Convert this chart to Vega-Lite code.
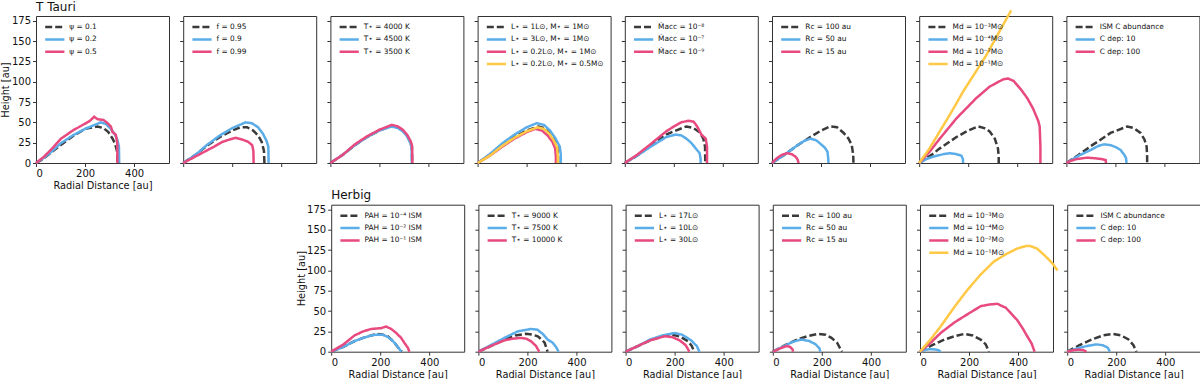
{
"$schema":"https://vega.github.io/schema/vega-lite/v6.json",
"padding":{"left":0,"top":0,"right":0,"bottom":0},
"spacing":-2.3,
"config":{
 "font":"DejaVu Sans",
 "view":{"stroke":"#333","strokeWidth":1},
 "axis":{"domain":false,"grid":false,"tickSize":3.5,"tickColor":"#333","labelFontSize":10,"labelColor":"#111","titleFontSize":9.8,"titleFontWeight":"normal","titleColor":"#111","labelPadding":2,"titlePadding":2},
 "axisY":{"titlePadding":0.5},
 "legend":{"padding":0,"labelFontSize":7.4,"symbolType":"M-2.4,0H2.4","symbolSize":64,"symbolStrokeWidth":2.5,"rowPadding":1.3,"labelOffset":9,"labelColor":"#111"},
 "line":{"strokeWidth":2.5,"clip":true},
 "title":{"anchor":"start","fontSize":12,"fontWeight":"normal","offset":2.2,"baseline":"alphabetic","frame":"group","color":"#111"}
},
"resolve":{"scale":{"color":"independent","strokeDash":"independent"},"legend":{"color":"independent","strokeDash":"independent"}},
"vconcat":[
{"hconcat":[
 {"title":"T Tauri","width":133,"height":147,"data":{"values":[
  {"s":"ψ = 0.1","x":0,"y":0},{"s":"ψ = 0.1","x":25,"y":4},{"s":"ψ = 0.1","x":50,"y":10},{"s":"ψ = 0.1","x":100,"y":22},{"s":"ψ = 0.1","x":150,"y":33},{"s":"ψ = 0.1","x":200,"y":42},{"s":"ψ = 0.1","x":250,"y":45},{"s":"ψ = 0.1","x":275,"y":43},{"s":"ψ = 0.1","x":295,"y":38},{"s":"ψ = 0.1","x":312,"y":30},{"s":"ψ = 0.1","x":322,"y":24},{"s":"ψ = 0.1","x":330,"y":15},{"s":"ψ = 0.1","x":332,"y":5},{"s":"ψ = 0.1","x":332,"y":0},
  {"s":"ψ = 0.2","x":0,"y":0},{"s":"ψ = 0.2","x":30,"y":6},{"s":"ψ = 0.2","x":60,"y":13},{"s":"ψ = 0.2","x":100,"y":24},{"s":"ψ = 0.2","x":150,"y":34},{"s":"ψ = 0.2","x":200,"y":42},{"s":"ψ = 0.2","x":240,"y":47},{"s":"ψ = 0.2","x":264,"y":50},{"s":"ψ = 0.2","x":285,"y":48},{"s":"ψ = 0.2","x":305,"y":42},{"s":"ψ = 0.2","x":322,"y":35},{"s":"ψ = 0.2","x":332,"y":28},{"s":"ψ = 0.2","x":338,"y":20},{"s":"ψ = 0.2","x":339,"y":0},
  {"s":"ψ = 0.5","x":0,"y":0},{"s":"ψ = 0.5","x":30,"y":7},{"s":"ψ = 0.5","x":60,"y":16},{"s":"ψ = 0.5","x":102,"y":30},{"s":"ψ = 0.5","x":150,"y":40},{"s":"ψ = 0.5","x":197,"y":48},{"s":"ψ = 0.5","x":220,"y":52},{"s":"ψ = 0.5","x":237,"y":57},{"s":"ψ = 0.5","x":250,"y":54},{"s":"ψ = 0.5","x":275,"y":53},{"s":"ψ = 0.5","x":292,"y":49},{"s":"ψ = 0.5","x":305,"y":45},{"s":"ψ = 0.5","x":312,"y":38},{"s":"ψ = 0.5","x":325,"y":35},{"s":"ψ = 0.5","x":331,"y":25},{"s":"ψ = 0.5","x":332,"y":0}
 ]},
 "mark":"line",
 "encoding":{
  "x":{"field":"x","type":"quantitative","scale":{"domain":[0,542],"nice":false},"axis":{"values":[0,200,400],"title":"Radial Distance [au]"}},
  "y":{"field":"y","type":"quantitative","scale":{"domain":[0,181],"nice":false},"axis":{"values":[0,25,50,75,100,125,150,175],"title":"Height [au]"}},
  "color":{"field":"s","type":"nominal","scale":{"domain":["ψ = 0.1","ψ = 0.2","ψ = 0.5"],"range":["#3a3a3a","#5aade8","#e8497e"]},"legend":{"title":null,"orient":"none","legendX":13.3,"legendY":5.6}},
  "strokeDash":{"field":"s","type":"nominal","scale":{"domain":["ψ = 0.1","ψ = 0.2","ψ = 0.5"],"range":[[7,3],[1,0],[1,0]]},"legend":{"title":null,"orient":"none","legendX":13.3,"legendY":5.6}},
  "order":{"value":null}
 }},
 {"width":133,"height":147,"data":{"values":[
  {"s":"f = 0.95","x":0,"y":0},{"s":"f = 0.95","x":50,"y":10},{"s":"f = 0.95","x":100,"y":22},{"s":"f = 0.95","x":150,"y":32},{"s":"f = 0.95","x":200,"y":40},{"s":"f = 0.95","x":233,"y":44},{"s":"f = 0.95","x":260,"y":44},{"s":"f = 0.95","x":285,"y":40},{"s":"f = 0.95","x":305,"y":34},{"s":"f = 0.95","x":320,"y":26},{"s":"f = 0.95","x":329,"y":15},{"s":"f = 0.95","x":331,"y":0},
  {"s":"f = 0.9","x":0,"y":0},{"s":"f = 0.9","x":50,"y":10},{"s":"f = 0.9","x":100,"y":23},{"s":"f = 0.9","x":150,"y":34},{"s":"f = 0.9","x":200,"y":43},{"s":"f = 0.9","x":254,"y":50},{"s":"f = 0.9","x":280,"y":49},{"s":"f = 0.9","x":305,"y":44},{"s":"f = 0.9","x":325,"y":36},{"s":"f = 0.9","x":340,"y":27},{"s":"f = 0.9","x":347,"y":20},{"s":"f = 0.9","x":348,"y":0},
  {"s":"f = 0.99","x":0,"y":0},{"s":"f = 0.99","x":50,"y":8},{"s":"f = 0.99","x":100,"y":16},{"s":"f = 0.99","x":125,"y":20},{"s":"f = 0.99","x":160,"y":26},{"s":"f = 0.99","x":190,"y":29},{"s":"f = 0.99","x":213,"y":31},{"s":"f = 0.99","x":240,"y":29},{"s":"f = 0.99","x":265,"y":26},{"s":"f = 0.99","x":281,"y":22},{"s":"f = 0.99","x":286,"y":15},{"s":"f = 0.99","x":287,"y":0}
 ]},
 "mark":"line",
 "encoding":{
  "x":{"field":"x","type":"quantitative","scale":{"domain":[0,542],"nice":false},"axis":{"values":[0,200,400],"labels":false,"title":null}},
  "y":{"field":"y","type":"quantitative","scale":{"domain":[0,181],"nice":false},"axis":{"values":[0,25,50,75,100,125,150,175],"labels":false,"title":null}},
  "color":{"field":"s","type":"nominal","scale":{"domain":["f = 0.95","f = 0.9","f = 0.99"],"range":["#3a3a3a","#5aade8","#e8497e"]},"legend":{"title":null,"orient":"none","legendX":13.3,"legendY":5.6}},
  "strokeDash":{"field":"s","type":"nominal","scale":{"domain":["f = 0.95","f = 0.9","f = 0.99"],"range":[[7,3],[1,0],[1,0]]},"legend":{"title":null,"orient":"none","legendX":13.3,"legendY":5.6}},
  "order":{"value":null}
 }},
 {"width":133,"height":147,"data":{"values":[
  {"s":"T⋆ = 4000 K","x":0,"y":0},{"s":"T⋆ = 4000 K","x":50,"y":10},{"s":"T⋆ = 4000 K","x":100,"y":22},{"s":"T⋆ = 4000 K","x":150,"y":32},{"s":"T⋆ = 4000 K","x":200,"y":40},{"s":"T⋆ = 4000 K","x":251,"y":46},{"s":"T⋆ = 4000 K","x":275,"y":44},{"s":"T⋆ = 4000 K","x":295,"y":40},{"s":"T⋆ = 4000 K","x":312,"y":34},{"s":"T⋆ = 4000 K","x":326,"y":26},{"s":"T⋆ = 4000 K","x":332,"y":20},{"s":"T⋆ = 4000 K","x":333,"y":0},
  {"s":"T⋆ = 4500 K","x":0,"y":0},{"s":"T⋆ = 4500 K","x":50,"y":10},{"s":"T⋆ = 4500 K","x":100,"y":22},{"s":"T⋆ = 4500 K","x":150,"y":32},{"s":"T⋆ = 4500 K","x":200,"y":40},{"s":"T⋆ = 4500 K","x":250,"y":45},{"s":"T⋆ = 4500 K","x":275,"y":43},{"s":"T⋆ = 4500 K","x":295,"y":39},{"s":"T⋆ = 4500 K","x":312,"y":33},{"s":"T⋆ = 4500 K","x":325,"y":25},{"s":"T⋆ = 4500 K","x":331,"y":19},{"s":"T⋆ = 4500 K","x":332,"y":0},
  {"s":"T⋆ = 3500 K","x":0,"y":0},{"s":"T⋆ = 3500 K","x":50,"y":10},{"s":"T⋆ = 3500 K","x":100,"y":23},{"s":"T⋆ = 3500 K","x":150,"y":33},{"s":"T⋆ = 3500 K","x":200,"y":41},{"s":"T⋆ = 3500 K","x":251,"y":47},{"s":"T⋆ = 3500 K","x":275,"y":45},{"s":"T⋆ = 3500 K","x":295,"y":41},{"s":"T⋆ = 3500 K","x":312,"y":35},{"s":"T⋆ = 3500 K","x":327,"y":27},{"s":"T⋆ = 3500 K","x":333,"y":21},{"s":"T⋆ = 3500 K","x":334,"y":0}
 ]},
 "mark":"line",
 "encoding":{
  "x":{"field":"x","type":"quantitative","scale":{"domain":[0,542],"nice":false},"axis":{"values":[0,200,400],"labels":false,"title":null}},
  "y":{"field":"y","type":"quantitative","scale":{"domain":[0,181],"nice":false},"axis":{"values":[0,25,50,75,100,125,150,175],"labels":false,"title":null}},
  "color":{"field":"s","type":"nominal","scale":{"domain":["T⋆ = 4000 K","T⋆ = 4500 K","T⋆ = 3500 K"],"range":["#3a3a3a","#5aade8","#e8497e"]},"legend":{"title":null,"orient":"none","legendX":13.3,"legendY":5.6}},
  "strokeDash":{"field":"s","type":"nominal","scale":{"domain":["T⋆ = 4000 K","T⋆ = 4500 K","T⋆ = 3500 K"],"range":[[7,3],[1,0],[1,0]]},"legend":{"title":null,"orient":"none","legendX":13.3,"legendY":5.6}},
  "order":{"value":null}
 }},
 {"width":133,"height":147,"data":{"values":[
  {"s":"L⋆ = 1L⊙, M⋆ = 1M⊙","x":0,"y":0},{"s":"L⋆ = 1L⊙, M⋆ = 1M⊙","x":50,"y":10},{"s":"L⋆ = 1L⊙, M⋆ = 1M⊙","x":100,"y":22},{"s":"L⋆ = 1L⊙, M⋆ = 1M⊙","x":150,"y":32},{"s":"L⋆ = 1L⊙, M⋆ = 1M⊙","x":200,"y":40},{"s":"L⋆ = 1L⊙, M⋆ = 1M⊙","x":248,"y":45},{"s":"L⋆ = 1L⊙, M⋆ = 1M⊙","x":272,"y":43},{"s":"L⋆ = 1L⊙, M⋆ = 1M⊙","x":293,"y":37},{"s":"L⋆ = 1L⊙, M⋆ = 1M⊙","x":312,"y":29},{"s":"L⋆ = 1L⊙, M⋆ = 1M⊙","x":325,"y":20},{"s":"L⋆ = 1L⊙, M⋆ = 1M⊙","x":328,"y":8},{"s":"L⋆ = 1L⊙, M⋆ = 1M⊙","x":328,"y":0},
  {"s":"L⋆ = 3L⊙, M⋆ = 1M⊙","x":0,"y":0},{"s":"L⋆ = 3L⊙, M⋆ = 1M⊙","x":50,"y":11},{"s":"L⋆ = 3L⊙, M⋆ = 1M⊙","x":100,"y":24},{"s":"L⋆ = 3L⊙, M⋆ = 1M⊙","x":150,"y":35},{"s":"L⋆ = 3L⊙, M⋆ = 1M⊙","x":200,"y":44},{"s":"L⋆ = 3L⊙, M⋆ = 1M⊙","x":241,"y":49},{"s":"L⋆ = 3L⊙, M⋆ = 1M⊙","x":270,"y":47},{"s":"L⋆ = 3L⊙, M⋆ = 1M⊙","x":295,"y":40},{"s":"L⋆ = 3L⊙, M⋆ = 1M⊙","x":318,"y":30},{"s":"L⋆ = 3L⊙, M⋆ = 1M⊙","x":335,"y":20},{"s":"L⋆ = 3L⊙, M⋆ = 1M⊙","x":339,"y":10},{"s":"L⋆ = 3L⊙, M⋆ = 1M⊙","x":339,"y":0},
  {"s":"L⋆ = 0.2L⊙, M⋆ = 1M⊙","x":0,"y":0},{"s":"L⋆ = 0.2L⊙, M⋆ = 1M⊙","x":50,"y":9},{"s":"L⋆ = 0.2L⊙, M⋆ = 1M⊙","x":100,"y":20},{"s":"L⋆ = 0.2L⊙, M⋆ = 1M⊙","x":150,"y":30},{"s":"L⋆ = 0.2L⊙, M⋆ = 1M⊙","x":200,"y":38},{"s":"L⋆ = 0.2L⊙, M⋆ = 1M⊙","x":235,"y":42},{"s":"L⋆ = 0.2L⊙, M⋆ = 1M⊙","x":262,"y":40},{"s":"L⋆ = 0.2L⊙, M⋆ = 1M⊙","x":285,"y":34},{"s":"L⋆ = 0.2L⊙, M⋆ = 1M⊙","x":305,"y":26},{"s":"L⋆ = 0.2L⊙, M⋆ = 1M⊙","x":316,"y":18},{"s":"L⋆ = 0.2L⊙, M⋆ = 1M⊙","x":319,"y":8},{"s":"L⋆ = 0.2L⊙, M⋆ = 1M⊙","x":319,"y":0},
  {"s":"L⋆ = 0.2L⊙, M⋆ = 0.5M⊙","x":0,"y":0},{"s":"L⋆ = 0.2L⊙, M⋆ = 0.5M⊙","x":50,"y":9},{"s":"L⋆ = 0.2L⊙, M⋆ = 0.5M⊙","x":100,"y":21},{"s":"L⋆ = 0.2L⊙, M⋆ = 0.5M⊙","x":150,"y":31},{"s":"L⋆ = 0.2L⊙, M⋆ = 0.5M⊙","x":200,"y":39},{"s":"L⋆ = 0.2L⊙, M⋆ = 0.5M⊙","x":245,"y":44},{"s":"L⋆ = 0.2L⊙, M⋆ = 0.5M⊙","x":270,"y":42},{"s":"L⋆ = 0.2L⊙, M⋆ = 0.5M⊙","x":292,"y":36},{"s":"L⋆ = 0.2L⊙, M⋆ = 0.5M⊙","x":310,"y":28},{"s":"L⋆ = 0.2L⊙, M⋆ = 0.5M⊙","x":324,"y":19},{"s":"L⋆ = 0.2L⊙, M⋆ = 0.5M⊙","x":327,"y":8},{"s":"L⋆ = 0.2L⊙, M⋆ = 0.5M⊙","x":327,"y":0}
 ]},
 "mark":"line",
 "encoding":{
  "x":{"field":"x","type":"quantitative","scale":{"domain":[0,542],"nice":false},"axis":{"values":[0,200,400],"labels":false,"title":null}},
  "y":{"field":"y","type":"quantitative","scale":{"domain":[0,181],"nice":false},"axis":{"values":[0,25,50,75,100,125,150,175],"labels":false,"title":null}},
  "color":{"field":"s","type":"nominal","scale":{"domain":["L⋆ = 1L⊙, M⋆ = 1M⊙","L⋆ = 3L⊙, M⋆ = 1M⊙","L⋆ = 0.2L⊙, M⋆ = 1M⊙","L⋆ = 0.2L⊙, M⋆ = 0.5M⊙"],"range":["#3a3a3a","#5aade8","#e8497e","#ffc845"]},"legend":{"title":null,"orient":"none","legendX":13.3,"legendY":5.6}},
  "strokeDash":{"field":"s","type":"nominal","scale":{"domain":["L⋆ = 1L⊙, M⋆ = 1M⊙","L⋆ = 3L⊙, M⋆ = 1M⊙","L⋆ = 0.2L⊙, M⋆ = 1M⊙","L⋆ = 0.2L⊙, M⋆ = 0.5M⊙"],"range":[[7,3],[1,0],[1,0],[1,0]]},"legend":{"title":null,"orient":"none","legendX":13.3,"legendY":5.6}},
  "order":{"value":null}
 }},
 {"width":133,"height":147,"data":{"values":[
  {"s":"Ṁacc = 10⁻⁸","x":0,"y":0},{"s":"Ṁacc = 10⁻⁸","x":50,"y":9},{"s":"Ṁacc = 10⁻⁸","x":100,"y":20},{"s":"Ṁacc = 10⁻⁸","x":169,"y":35},{"s":"Ṁacc = 10⁻⁸","x":200,"y":39},{"s":"Ṁacc = 10⁻⁸","x":251,"y":45},{"s":"Ṁacc = 10⁻⁸","x":280,"y":43},{"s":"Ṁacc = 10⁻⁸","x":305,"y":38},{"s":"Ṁacc = 10⁻⁸","x":320,"y":30},{"s":"Ṁacc = 10⁻⁸","x":327,"y":20},{"s":"Ṁacc = 10⁻⁸","x":328,"y":0},
  {"s":"Ṁacc = 10⁻⁷","x":0,"y":0},{"s":"Ṁacc = 10⁻⁷","x":50,"y":9},{"s":"Ṁacc = 10⁻⁷","x":100,"y":19},{"s":"Ṁacc = 10⁻⁷","x":169,"y":32},{"s":"Ṁacc = 10⁻⁷","x":207,"y":35},{"s":"Ṁacc = 10⁻⁷","x":230,"y":34},{"s":"Ṁacc = 10⁻⁷","x":251,"y":30},{"s":"Ṁacc = 10⁻⁷","x":270,"y":25},{"s":"Ṁacc = 10⁻⁷","x":289,"y":18},{"s":"Ṁacc = 10⁻⁷","x":305,"y":12},{"s":"Ṁacc = 10⁻⁷","x":309,"y":5},{"s":"Ṁacc = 10⁻⁷","x":309,"y":0},
  {"s":"Ṁacc = 10⁻⁹","x":0,"y":0},{"s":"Ṁacc = 10⁻⁹","x":50,"y":10},{"s":"Ṁacc = 10⁻⁹","x":100,"y":22},{"s":"Ṁacc = 10⁻⁹","x":169,"y":39},{"s":"Ṁacc = 10⁻⁹","x":200,"y":45},{"s":"Ṁacc = 10⁻⁹","x":230,"y":50},{"s":"Ṁacc = 10⁻⁹","x":258,"y":52},{"s":"Ṁacc = 10⁻⁹","x":280,"y":51},{"s":"Ṁacc = 10⁻⁹","x":295,"y":45},{"s":"Ṁacc = 10⁻⁹","x":312,"y":35},{"s":"Ṁacc = 10⁻⁹","x":330,"y":30},{"s":"Ṁacc = 10⁻⁹","x":335,"y":20},{"s":"Ṁacc = 10⁻⁹","x":335,"y":0}
 ]},
 "mark":"line",
 "encoding":{
  "x":{"field":"x","type":"quantitative","scale":{"domain":[0,542],"nice":false},"axis":{"values":[0,200,400],"labels":false,"title":null}},
  "y":{"field":"y","type":"quantitative","scale":{"domain":[0,181],"nice":false},"axis":{"values":[0,25,50,75,100,125,150,175],"labels":false,"title":null}},
  "color":{"field":"s","type":"nominal","scale":{"domain":["Ṁacc = 10⁻⁸","Ṁacc = 10⁻⁷","Ṁacc = 10⁻⁹"],"range":["#3a3a3a","#5aade8","#e8497e"]},"legend":{"title":null,"orient":"none","legendX":13.3,"legendY":5.6}},
  "strokeDash":{"field":"s","type":"nominal","scale":{"domain":["Ṁacc = 10⁻⁸","Ṁacc = 10⁻⁷","Ṁacc = 10⁻⁹"],"range":[[7,3],[1,0],[1,0]]},"legend":{"title":null,"orient":"none","legendX":13.3,"legendY":5.6}},
  "order":{"value":null}
 }},
 {"width":133,"height":147,"data":{"values":[
  {"s":"Rᴄ = 100 au","x":0,"y":0},{"s":"Rᴄ = 100 au","x":50,"y":10},{"s":"Rᴄ = 100 au","x":100,"y":21},{"s":"Rᴄ = 100 au","x":156,"y":32},{"s":"Rᴄ = 100 au","x":200,"y":40},{"s":"Rᴄ = 100 au","x":237,"y":45},{"s":"Rᴄ = 100 au","x":265,"y":44},{"s":"Rᴄ = 100 au","x":292,"y":37},{"s":"Rᴄ = 100 au","x":312,"y":30},{"s":"Rᴄ = 100 au","x":325,"y":22},{"s":"Rᴄ = 100 au","x":331,"y":10},{"s":"Rᴄ = 100 au","x":332,"y":0},
  {"s":"Rᴄ = 50 au","x":0,"y":0},{"s":"Rᴄ = 50 au","x":50,"y":10},{"s":"Rᴄ = 50 au","x":100,"y":21},{"s":"Rᴄ = 50 au","x":130,"y":27},{"s":"Rᴄ = 50 au","x":156,"y":30},{"s":"Rᴄ = 50 au","x":180,"y":28},{"s":"Rᴄ = 50 au","x":196,"y":24},{"s":"Rᴄ = 50 au","x":215,"y":19},{"s":"Rᴄ = 50 au","x":226,"y":14},{"s":"Rᴄ = 50 au","x":229,"y":6},{"s":"Rᴄ = 50 au","x":230,"y":0},
  {"s":"Rᴄ = 15 au","x":0,"y":0},{"s":"Rᴄ = 15 au","x":20,"y":6},{"s":"Rᴄ = 15 au","x":40,"y":10},{"s":"Rᴄ = 15 au","x":61,"y":12},{"s":"Rᴄ = 15 au","x":80,"y":11},{"s":"Rᴄ = 15 au","x":95,"y":8},{"s":"Rᴄ = 15 au","x":105,"y":4},{"s":"Rᴄ = 15 au","x":108,"y":0}
 ]},
 "mark":"line",
 "encoding":{
  "x":{"field":"x","type":"quantitative","scale":{"domain":[0,542],"nice":false},"axis":{"values":[0,200,400],"labels":false,"title":null}},
  "y":{"field":"y","type":"quantitative","scale":{"domain":[0,181],"nice":false},"axis":{"values":[0,25,50,75,100,125,150,175],"labels":false,"title":null}},
  "color":{"field":"s","type":"nominal","scale":{"domain":["Rᴄ = 100 au","Rᴄ = 50 au","Rᴄ = 15 au"],"range":["#3a3a3a","#5aade8","#e8497e"]},"legend":{"title":null,"orient":"none","legendX":13.3,"legendY":5.6}},
  "strokeDash":{"field":"s","type":"nominal","scale":{"domain":["Rᴄ = 100 au","Rᴄ = 50 au","Rᴄ = 15 au"],"range":[[7,3],[1,0],[1,0]]},"legend":{"title":null,"orient":"none","legendX":13.3,"legendY":5.6}},
  "order":{"value":null}
 }},
 {"width":133,"height":147,"data":{"values":[
  {"s":"Md = 10⁻³M⊙","x":0,"y":0},{"s":"Md = 10⁻³M⊙","x":50,"y":10},{"s":"Md = 10⁻³M⊙","x":84,"y":18},{"s":"Md = 10⁻³M⊙","x":152,"y":32},{"s":"Md = 10⁻³M⊙","x":200,"y":40},{"s":"Md = 10⁻³M⊙","x":240,"y":45},{"s":"Md = 10⁻³M⊙","x":265,"y":43},{"s":"Md = 10⁻³M⊙","x":287,"y":39},{"s":"Md = 10⁻³M⊙","x":308,"y":30},{"s":"Md = 10⁻³M⊙","x":321,"y":18},{"s":"Md = 10⁻³M⊙","x":324,"y":8},{"s":"Md = 10⁻³M⊙","x":324,"y":0},
  {"s":"Md = 10⁻⁴M⊙","x":0,"y":0},{"s":"Md = 10⁻⁴M⊙","x":30,"y":5},{"s":"Md = 10⁻⁴M⊙","x":60,"y":8},{"s":"Md = 10⁻⁴M⊙","x":100,"y":11},{"s":"Md = 10⁻⁴M⊙","x":125,"y":12},{"s":"Md = 10⁻⁴M⊙","x":150,"y":11},{"s":"Md = 10⁻⁴M⊙","x":172,"y":9},{"s":"Md = 10⁻⁴M⊙","x":178,"y":5},{"s":"Md = 10⁻⁴M⊙","x":179,"y":0},
  {"s":"Md = 10⁻²M⊙","x":0,"y":0},{"s":"Md = 10⁻²M⊙","x":40,"y":13},{"s":"Md = 10⁻²M⊙","x":84,"y":30},{"s":"Md = 10⁻²M⊙","x":152,"y":55},{"s":"Md = 10⁻²M⊙","x":233,"y":80},{"s":"Md = 10⁻²M⊙","x":287,"y":94},{"s":"Md = 10⁻²M⊙","x":342,"y":103},{"s":"Md = 10⁻²M⊙","x":362,"y":104},{"s":"Md = 10⁻²M⊙","x":385,"y":101},{"s":"Md = 10⁻²M⊙","x":416,"y":90},{"s":"Md = 10⁻²M⊙","x":440,"y":80},{"s":"Md = 10⁻²M⊙","x":464,"y":67},{"s":"Md = 10⁻²M⊙","x":485,"y":52},{"s":"Md = 10⁻²M⊙","x":491,"y":45},{"s":"Md = 10⁻²M⊙","x":494,"y":20},{"s":"Md = 10⁻²M⊙","x":494,"y":0},
  {"s":"Md = 10⁻¹M⊙","x":0,"y":0},{"s":"Md = 10⁻¹M⊙","x":40,"y":17},{"s":"Md = 10⁻¹M⊙","x":84,"y":39},{"s":"Md = 10⁻¹M⊙","x":130,"y":62},{"s":"Md = 10⁻¹M⊙","x":179,"y":88},{"s":"Md = 10⁻¹M⊙","x":230,"y":112},{"s":"Md = 10⁻¹M⊙","x":274,"y":133},{"s":"Md = 10⁻¹M⊙","x":320,"y":158},{"s":"Md = 10⁻¹M⊙","x":362,"y":181},{"s":"Md = 10⁻¹M⊙","x":375,"y":188}
 ]},
 "mark":"line",
 "encoding":{
  "x":{"field":"x","type":"quantitative","scale":{"domain":[0,542],"nice":false},"axis":{"values":[0,200,400],"labels":false,"title":null}},
  "y":{"field":"y","type":"quantitative","scale":{"domain":[0,181],"nice":false},"axis":{"values":[0,25,50,75,100,125,150,175],"labels":false,"title":null}},
  "color":{"field":"s","type":"nominal","scale":{"domain":["Md = 10⁻³M⊙","Md = 10⁻⁴M⊙","Md = 10⁻²M⊙","Md = 10⁻¹M⊙"],"range":["#3a3a3a","#5aade8","#e8497e","#ffc845"]},"legend":{"title":null,"orient":"none","legendX":13.3,"legendY":5.6}},
  "strokeDash":{"field":"s","type":"nominal","scale":{"domain":["Md = 10⁻³M⊙","Md = 10⁻⁴M⊙","Md = 10⁻²M⊙","Md = 10⁻¹M⊙"],"range":[[7,3],[1,0],[1,0],[1,0]]},"legend":{"title":null,"orient":"none","legendX":13.3,"legendY":5.6}},
  "order":{"value":null}
 }},
 {"width":133,"height":147,"data":{"values":[
  {"s":"ISM C abundance","x":0,"y":0},{"s":"ISM C abundance","x":50,"y":10},{"s":"ISM C abundance","x":100,"y":21},{"s":"ISM C abundance","x":126,"y":26},{"s":"ISM C abundance","x":180,"y":37},{"s":"ISM C abundance","x":248,"y":45},{"s":"ISM C abundance","x":275,"y":43},{"s":"ISM C abundance","x":302,"y":37},{"s":"ISM C abundance","x":318,"y":29},{"s":"ISM C abundance","x":327,"y":20},{"s":"ISM C abundance","x":329,"y":8},{"s":"ISM C abundance","x":329,"y":0},
  {"s":"C dep: 10","x":0,"y":0},{"s":"C dep: 10","x":50,"y":9},{"s":"C dep: 10","x":99,"y":16},{"s":"C dep: 10","x":130,"y":21},{"s":"C dep: 10","x":153,"y":23},{"s":"C dep: 10","x":180,"y":22},{"s":"C dep: 10","x":205,"y":19},{"s":"C dep: 10","x":221,"y":16},{"s":"C dep: 10","x":236,"y":10},{"s":"C dep: 10","x":243,"y":6},{"s":"C dep: 10","x":245,"y":0},
  {"s":"C dep: 100","x":0,"y":0},{"s":"C dep: 100","x":20,"y":3},{"s":"C dep: 100","x":45,"y":5},{"s":"C dep: 100","x":85,"y":6.6},{"s":"C dep: 100","x":110,"y":6},{"s":"C dep: 100","x":140,"y":5},{"s":"C dep: 100","x":160,"y":3.7},{"s":"C dep: 100","x":161,"y":0}
 ]},
 "mark":"line",
 "encoding":{
  "x":{"field":"x","type":"quantitative","scale":{"domain":[0,542],"nice":false},"axis":{"values":[0,200,400],"labels":false,"title":null}},
  "y":{"field":"y","type":"quantitative","scale":{"domain":[0,181],"nice":false},"axis":{"values":[0,25,50,75,100,125,150,175],"labels":false,"title":null}},
  "color":{"field":"s","type":"nominal","scale":{"domain":["ISM C abundance","C dep: 10","C dep: 100"],"range":["#3a3a3a","#5aade8","#e8497e"]},"legend":{"title":null,"orient":"none","legendX":13.3,"legendY":5.6}},
  "strokeDash":{"field":"s","type":"nominal","scale":{"domain":["ISM C abundance","C dep: 10","C dep: 100"],"range":[[7,3],[1,0],[1,0]]},"legend":{"title":null,"orient":"none","legendX":13.3,"legendY":5.6}},
  "order":{"value":null}
 }}
],"spacing":14.2,"bounds":"flush","resolve":{"scale":{"color":"independent","strokeDash":"independent"},"legend":{"color":"independent","strokeDash":"independent"}}},
{"hconcat":[
 {"width":280.5,"height":147,"data":{"values":[]},"mark":"point","view":{"stroke":null}},
 {"title":"Herbig","width":133,"height":147,"data":{"values":[
  {"s":"PAH = 10⁻⁴ ISM","x":0,"y":0},{"s":"PAH = 10⁻⁴ ISM","x":50,"y":6},{"s":"PAH = 10⁻⁴ ISM","x":95,"y":13},{"s":"PAH = 10⁻⁴ ISM","x":130,"y":17},{"s":"PAH = 10⁻⁴ ISM","x":163,"y":20},{"s":"PAH = 10⁻⁴ ISM","x":184,"y":22},{"s":"PAH = 10⁻⁴ ISM","x":210,"y":21},{"s":"PAH = 10⁻⁴ ISM","x":231,"y":19},{"s":"PAH = 10⁻⁴ ISM","x":245,"y":15},{"s":"PAH = 10⁻⁴ ISM","x":258,"y":11},{"s":"PAH = 10⁻⁴ ISM","x":278,"y":3},{"s":"PAH = 10⁻⁴ ISM","x":288,"y":0},
  {"s":"PAH = 10⁻² ISM","x":0,"y":0},{"s":"PAH = 10⁻² ISM","x":50,"y":6},{"s":"PAH = 10⁻² ISM","x":95,"y":13},{"s":"PAH = 10⁻² ISM","x":130,"y":17},{"s":"PAH = 10⁻² ISM","x":163,"y":20},{"s":"PAH = 10⁻² ISM","x":184,"y":21},{"s":"PAH = 10⁻² ISM","x":210,"y":21},{"s":"PAH = 10⁻² ISM","x":231,"y":18},{"s":"PAH = 10⁻² ISM","x":245,"y":15},{"s":"PAH = 10⁻² ISM","x":258,"y":11},{"s":"PAH = 10⁻² ISM","x":276,"y":4},{"s":"PAH = 10⁻² ISM","x":286,"y":0},
  {"s":"PAH = 10⁻¹ ISM","x":0,"y":0},{"s":"PAH = 10⁻¹ ISM","x":50,"y":9},{"s":"PAH = 10⁻¹ ISM","x":95,"y":20},{"s":"PAH = 10⁻¹ ISM","x":130,"y":25},{"s":"PAH = 10⁻¹ ISM","x":163,"y":28},{"s":"PAH = 10⁻¹ ISM","x":203,"y":29},{"s":"PAH = 10⁻¹ ISM","x":224,"y":31},{"s":"PAH = 10⁻¹ ISM","x":245,"y":28},{"s":"PAH = 10⁻¹ ISM","x":265,"y":23},{"s":"PAH = 10⁻¹ ISM","x":285,"y":17},{"s":"PAH = 10⁻¹ ISM","x":298,"y":11},{"s":"PAH = 10⁻¹ ISM","x":312,"y":5},{"s":"PAH = 10⁻¹ ISM","x":319,"y":0}
 ]},
 "mark":"line",
 "encoding":{
  "x":{"field":"x","type":"quantitative","scale":{"domain":[0,542],"nice":false},"axis":{"values":[0,200,400],"title":"Radial Distance [au]"}},
  "y":{"field":"y","type":"quantitative","scale":{"domain":[0,181],"nice":false},"axis":{"values":[0,25,50,75,100,125,150,175],"title":"Height [au]"}},
  "color":{"field":"s","type":"nominal","scale":{"domain":["PAH = 10⁻⁴ ISM","PAH = 10⁻² ISM","PAH = 10⁻¹ ISM"],"range":["#3a3a3a","#5aade8","#e8497e"]},"legend":{"title":null,"orient":"none","legendX":13.3,"legendY":5.6}},
  "strokeDash":{"field":"s","type":"nominal","scale":{"domain":["PAH = 10⁻⁴ ISM","PAH = 10⁻² ISM","PAH = 10⁻¹ ISM"],"range":[[7,3],[1,0],[1,0]]},"legend":{"title":null,"orient":"none","legendX":13.3,"legendY":5.6}},
  "order":{"value":null}
 }},
 {"width":133,"height":147,"data":{"values":[
  {"s":"T⋆ = 9000 K","x":0,"y":0},{"s":"T⋆ = 9000 K","x":50,"y":7},{"s":"T⋆ = 9000 K","x":106,"y":15},{"s":"T⋆ = 9000 K","x":150,"y":20},{"s":"T⋆ = 9000 K","x":194,"y":22},{"s":"T⋆ = 9000 K","x":220,"y":21},{"s":"T⋆ = 9000 K","x":242,"y":19},{"s":"T⋆ = 9000 K","x":258,"y":15},{"s":"T⋆ = 9000 K","x":270,"y":11},{"s":"T⋆ = 9000 K","x":282,"y":0},
  {"s":"T⋆ = 7500 K","x":0,"y":0},{"s":"T⋆ = 7500 K","x":50,"y":8},{"s":"T⋆ = 7500 K","x":106,"y":17},{"s":"T⋆ = 7500 K","x":160,"y":25},{"s":"T⋆ = 7500 K","x":214,"y":28},{"s":"T⋆ = 7500 K","x":241,"y":27},{"s":"T⋆ = 7500 K","x":262,"y":22},{"s":"T⋆ = 7500 K","x":282,"y":15},{"s":"T⋆ = 7500 K","x":303,"y":11},{"s":"T⋆ = 7500 K","x":318,"y":5},{"s":"T⋆ = 7500 K","x":327,"y":0},
  {"s":"T⋆ = 10000 K","x":0,"y":0},{"s":"T⋆ = 10000 K","x":50,"y":7},{"s":"T⋆ = 10000 K","x":106,"y":14},{"s":"T⋆ = 10000 K","x":140,"y":16},{"s":"T⋆ = 10000 K","x":174,"y":17},{"s":"T⋆ = 10000 K","x":195,"y":16},{"s":"T⋆ = 10000 K","x":214,"y":13},{"s":"T⋆ = 10000 K","x":235,"y":7},{"s":"T⋆ = 10000 K","x":248,"y":0}
 ]},
 "mark":"line",
 "encoding":{
  "x":{"field":"x","type":"quantitative","scale":{"domain":[0,542],"nice":false},"axis":{"values":[0,200,400],"title":"Radial Distance [au]"}},
  "y":{"field":"y","type":"quantitative","scale":{"domain":[0,181],"nice":false},"axis":{"values":[0,25,50,75,100,125,150,175],"labels":false,"title":null}},
  "color":{"field":"s","type":"nominal","scale":{"domain":["T⋆ = 9000 K","T⋆ = 7500 K","T⋆ = 10000 K"],"range":["#3a3a3a","#5aade8","#e8497e"]},"legend":{"title":null,"orient":"none","legendX":13.3,"legendY":5.6}},
  "strokeDash":{"field":"s","type":"nominal","scale":{"domain":["T⋆ = 9000 K","T⋆ = 7500 K","T⋆ = 10000 K"],"range":[[7,3],[1,0],[1,0]]},"legend":{"title":null,"orient":"none","legendX":13.3,"legendY":5.6}},
  "order":{"value":null}
 }},
 {"width":133,"height":147,"data":{"values":[
  {"s":"L⋆ = 17L⊙","x":0,"y":0},{"s":"L⋆ = 17L⊙","x":50,"y":7},{"s":"L⋆ = 17L⊙","x":100,"y":14},{"s":"L⋆ = 17L⊙","x":150,"y":19},{"s":"L⋆ = 17L⊙","x":186,"y":21},{"s":"L⋆ = 17L⊙","x":220,"y":19},{"s":"L⋆ = 17L⊙","x":254,"y":13},{"s":"L⋆ = 17L⊙","x":270,"y":7},{"s":"L⋆ = 17L⊙","x":279,"y":0},
  {"s":"L⋆ = 10L⊙","x":0,"y":0},{"s":"L⋆ = 10L⊙","x":50,"y":7},{"s":"L⋆ = 10L⊙","x":100,"y":15},{"s":"L⋆ = 10L⊙","x":150,"y":20},{"s":"L⋆ = 10L⊙","x":199,"y":23},{"s":"L⋆ = 10L⊙","x":230,"y":21},{"s":"L⋆ = 10L⊙","x":267,"y":14},{"s":"L⋆ = 10L⊙","x":290,"y":7},{"s":"L⋆ = 10L⊙","x":301,"y":0},
  {"s":"L⋆ = 30L⊙","x":0,"y":0},{"s":"L⋆ = 30L⊙","x":50,"y":7},{"s":"L⋆ = 30L⊙","x":100,"y":14},{"s":"L⋆ = 30L⊙","x":159,"y":19},{"s":"L⋆ = 30L⊙","x":190,"y":18},{"s":"L⋆ = 30L⊙","x":220,"y":14},{"s":"L⋆ = 30L⊙","x":245,"y":8},{"s":"L⋆ = 30L⊙","x":260,"y":0}
 ]},
 "mark":"line",
 "encoding":{
  "x":{"field":"x","type":"quantitative","scale":{"domain":[0,542],"nice":false},"axis":{"values":[0,200,400],"title":"Radial Distance [au]"}},
  "y":{"field":"y","type":"quantitative","scale":{"domain":[0,181],"nice":false},"axis":{"values":[0,25,50,75,100,125,150,175],"labels":false,"title":null}},
  "color":{"field":"s","type":"nominal","scale":{"domain":["L⋆ = 17L⊙","L⋆ = 10L⊙","L⋆ = 30L⊙"],"range":["#3a3a3a","#5aade8","#e8497e"]},"legend":{"title":null,"orient":"none","legendX":13.3,"legendY":5.6}},
  "strokeDash":{"field":"s","type":"nominal","scale":{"domain":["L⋆ = 17L⊙","L⋆ = 10L⊙","L⋆ = 30L⊙"],"range":[[7,3],[1,0],[1,0]]},"legend":{"title":null,"orient":"none","legendX":13.3,"legendY":5.6}},
  "order":{"value":null}
 }},
 {"width":133,"height":147,"data":{"values":[
  {"s":"Rᴄ = 100 au","x":0,"y":0},{"s":"Rᴄ = 100 au","x":50,"y":8},{"s":"Rᴄ = 100 au","x":100,"y":15},{"s":"Rᴄ = 100 au","x":140,"y":19},{"s":"Rᴄ = 100 au","x":184,"y":22},{"s":"Rᴄ = 100 au","x":215,"y":21},{"s":"Rᴄ = 100 au","x":239,"y":17},{"s":"Rᴄ = 100 au","x":262,"y":11},{"s":"Rᴄ = 100 au","x":282,"y":0},
  {"s":"Rᴄ = 50 au","x":0,"y":0},{"s":"Rᴄ = 50 au","x":40,"y":6},{"s":"Rᴄ = 50 au","x":80,"y":12},{"s":"Rᴄ = 50 au","x":117,"y":15},{"s":"Rᴄ = 50 au","x":150,"y":13},{"s":"Rᴄ = 50 au","x":175,"y":9},{"s":"Rᴄ = 50 au","x":190,"y":4},{"s":"Rᴄ = 50 au","x":194,"y":0},
  {"s":"Rᴄ = 15 au","x":0,"y":0},{"s":"Rᴄ = 15 au","x":30,"y":4},{"s":"Rᴄ = 15 au","x":56,"y":7},{"s":"Rᴄ = 15 au","x":70,"y":6},{"s":"Rᴄ = 15 au","x":80,"y":3},{"s":"Rᴄ = 15 au","x":83,"y":0}
 ]},
 "mark":"line",
 "encoding":{
  "x":{"field":"x","type":"quantitative","scale":{"domain":[0,542],"nice":false},"axis":{"values":[0,200,400],"title":"Radial Distance [au]"}},
  "y":{"field":"y","type":"quantitative","scale":{"domain":[0,181],"nice":false},"axis":{"values":[0,25,50,75,100,125,150,175],"labels":false,"title":null}},
  "color":{"field":"s","type":"nominal","scale":{"domain":["Rᴄ = 100 au","Rᴄ = 50 au","Rᴄ = 15 au"],"range":["#3a3a3a","#5aade8","#e8497e"]},"legend":{"title":null,"orient":"none","legendX":13.3,"legendY":5.6}},
  "strokeDash":{"field":"s","type":"nominal","scale":{"domain":["Rᴄ = 100 au","Rᴄ = 50 au","Rᴄ = 15 au"],"range":[[7,3],[1,0],[1,0]]},"legend":{"title":null,"orient":"none","legendX":13.3,"legendY":5.6}},
  "order":{"value":null}
 }},
 {"width":133,"height":147,"data":{"values":[
  {"s":"Md = 10⁻³M⊙","x":0,"y":0},{"s":"Md = 10⁻³M⊙","x":50,"y":8},{"s":"Md = 10⁻³M⊙","x":100,"y":15},{"s":"Md = 10⁻³M⊙","x":140,"y":19},{"s":"Md = 10⁻³M⊙","x":182,"y":22},{"s":"Md = 10⁻³M⊙","x":215,"y":20},{"s":"Md = 10⁻³M⊙","x":247,"y":15},{"s":"Md = 10⁻³M⊙","x":268,"y":9},{"s":"Md = 10⁻³M⊙","x":281,"y":0},
  {"s":"Md = 10⁻⁴M⊙","x":0,"y":0},{"s":"Md = 10⁻⁴M⊙","x":15,"y":2},{"s":"Md = 10⁻⁴M⊙","x":35,"y":3},{"s":"Md = 10⁻⁴M⊙","x":55,"y":3},{"s":"Md = 10⁻⁴M⊙","x":75,"y":2},{"s":"Md = 10⁻⁴M⊙","x":84,"y":0},
  {"s":"Md = 10⁻²M⊙","x":0,"y":0},{"s":"Md = 10⁻²M⊙","x":40,"y":10},{"s":"Md = 10⁻²M⊙","x":84,"y":23},{"s":"Md = 10⁻²M⊙","x":140,"y":36},{"s":"Md = 10⁻²M⊙","x":193,"y":46},{"s":"Md = 10⁻²M⊙","x":247,"y":56},{"s":"Md = 10⁻²M⊙","x":280,"y":58},{"s":"Md = 10⁻²M⊙","x":315,"y":59},{"s":"Md = 10⁻²M⊙","x":350,"y":54},{"s":"Md = 10⁻²M⊙","x":396,"y":39},{"s":"Md = 10⁻²M⊙","x":420,"y":28},{"s":"Md = 10⁻²M⊙","x":437,"y":19},{"s":"Md = 10⁻²M⊙","x":455,"y":10},{"s":"Md = 10⁻²M⊙","x":467,"y":0},
  {"s":"Md = 10⁻¹M⊙","x":0,"y":0},{"s":"Md = 10⁻¹M⊙","x":40,"y":14},{"s":"Md = 10⁻¹M⊙","x":84,"y":31},{"s":"Md = 10⁻¹M⊙","x":140,"y":55},{"s":"Md = 10⁻¹M⊙","x":193,"y":76},{"s":"Md = 10⁻¹M⊙","x":247,"y":95},{"s":"Md = 10⁻¹M⊙","x":301,"y":111},{"s":"Md = 10⁻¹M⊙","x":350,"y":120},{"s":"Md = 10⁻¹M⊙","x":396,"y":127},{"s":"Md = 10⁻¹M⊙","x":430,"y":130},{"s":"Md = 10⁻¹M⊙","x":450,"y":130},{"s":"Md = 10⁻¹M⊙","x":477,"y":127},{"s":"Md = 10⁻¹M⊙","x":510,"y":118},{"s":"Md = 10⁻¹M⊙","x":542,"y":108},{"s":"Md = 10⁻¹M⊙","x":560,"y":100}
 ]},
 "mark":"line",
 "encoding":{
  "x":{"field":"x","type":"quantitative","scale":{"domain":[0,542],"nice":false},"axis":{"values":[0,200,400],"title":"Radial Distance [au]"}},
  "y":{"field":"y","type":"quantitative","scale":{"domain":[0,181],"nice":false},"axis":{"values":[0,25,50,75,100,125,150,175],"labels":false,"title":null}},
  "color":{"field":"s","type":"nominal","scale":{"domain":["Md = 10⁻³M⊙","Md = 10⁻⁴M⊙","Md = 10⁻²M⊙","Md = 10⁻¹M⊙"],"range":["#3a3a3a","#5aade8","#e8497e","#ffc845"]},"legend":{"title":null,"orient":"none","legendX":13.3,"legendY":5.6}},
  "strokeDash":{"field":"s","type":"nominal","scale":{"domain":["Md = 10⁻³M⊙","Md = 10⁻⁴M⊙","Md = 10⁻²M⊙","Md = 10⁻¹M⊙"],"range":[[7,3],[1,0],[1,0],[1,0]]},"legend":{"title":null,"orient":"none","legendX":13.3,"legendY":5.6}},
  "order":{"value":null}
 }},
 {"width":133,"height":147,"data":{"values":[
  {"s":"ISM C abundance","x":0,"y":0},{"s":"ISM C abundance","x":50,"y":8},{"s":"ISM C abundance","x":100,"y":15},{"s":"ISM C abundance","x":145,"y":20},{"s":"ISM C abundance","x":187,"y":22},{"s":"ISM C abundance","x":220,"y":20},{"s":"ISM C abundance","x":250,"y":15},{"s":"ISM C abundance","x":270,"y":8},{"s":"ISM C abundance","x":282,"y":0},
  {"s":"C dep: 10","x":0,"y":0},{"s":"C dep: 10","x":40,"y":4},{"s":"C dep: 10","x":80,"y":7},{"s":"C dep: 10","x":119,"y":9},{"s":"C dep: 10","x":145,"y":8},{"s":"C dep: 10","x":165,"y":5},{"s":"C dep: 10","x":174,"y":0},
  {"s":"C dep: 100","x":0,"y":0},{"s":"C dep: 100","x":20,"y":1.5},{"s":"C dep: 100","x":45,"y":2.5},{"s":"C dep: 100","x":65,"y":2},{"s":"C dep: 100","x":79,"y":0}
 ]},
 "mark":"line",
 "encoding":{
  "x":{"field":"x","type":"quantitative","scale":{"domain":[0,542],"nice":false},"axis":{"values":[0,200,400],"title":"Radial Distance [au]"}},
  "y":{"field":"y","type":"quantitative","scale":{"domain":[0,181],"nice":false},"axis":{"values":[0,25,50,75,100,125,150,175],"labels":false,"title":null}},
  "color":{"field":"s","type":"nominal","scale":{"domain":["ISM C abundance","C dep: 10","C dep: 100"],"range":["#3a3a3a","#5aade8","#e8497e"]},"legend":{"title":null,"orient":"none","legendX":13.3,"legendY":5.6}},
  "strokeDash":{"field":"s","type":"nominal","scale":{"domain":["ISM C abundance","C dep: 10","C dep: 100"],"range":[[7,3],[1,0],[1,0]]},"legend":{"title":null,"orient":"none","legendX":13.3,"legendY":5.6}},
  "order":{"value":null}
 }}
],"spacing":14.2,"bounds":"flush","resolve":{"scale":{"color":"independent","strokeDash":"independent"},"legend":{"color":"independent","strokeDash":"independent"}}}
]
}
